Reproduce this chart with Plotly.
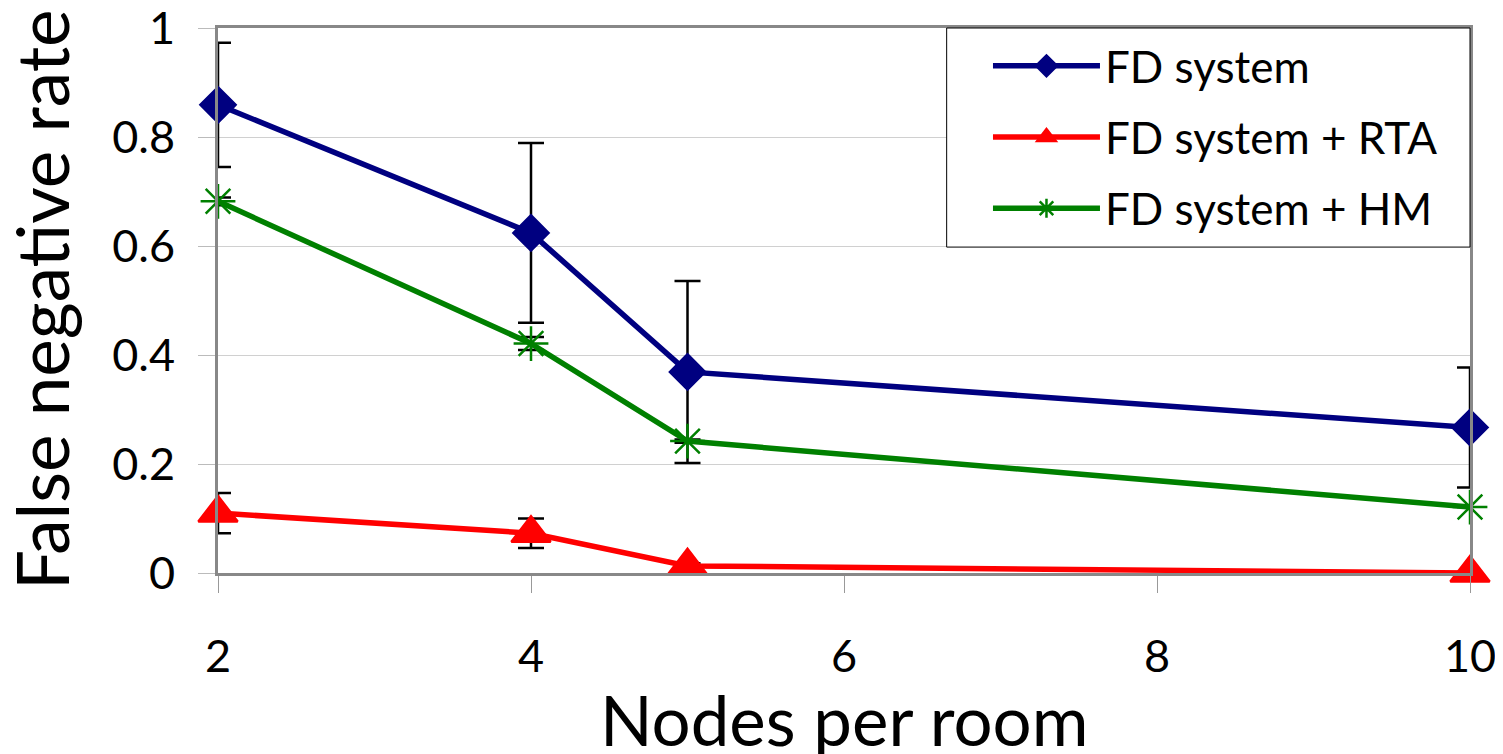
import plotly.graph_objects as go

nodes = [2, 4, 5, 10]
series_names = ["FD system", "FD system + RTA", "FD system + HM"]
fd = [0.859, 0.624, 0.369, 0.267]
fd_err = [0.114, 0.165, 0.167, 0.11]
rta = [0.11, 0.073, 0.013, 0.0]
rta_err = [0.037, 0.027, 0.005, 0.0]
hm = [0.682, 0.421, 0.242, 0.121]
hm_err = [0.007, 0.012, 0.003, 0.0]
y_ticks = [0, 0.2, 0.4, 0.6, 0.8, 1]
y_ticktext = ["0", "0.2", "0.4", "0.6", "0.8", "1"]
x_ticks = [2, 4, 6, 8, 10]
x_title = "Nodes per room"
y_title = "False negative rate"

FONT = "Lato"

fig = go.Figure()

def add(name, y, err, color, symbol, size, group):
    fig.add_trace(go.Scatter(
        x=nodes, y=y, name=name, mode="lines+markers",
        line=dict(color=color, width=5.5),
        marker=dict(symbol=symbol, size=size, color=color,
                    line=dict(color=color, width=2.5)),
        error_y=dict(type="data", array=err, symmetric=True,
                     color="black", thickness=2.5, width=13),
        cliponaxis=False, legendgroup=group,
    ))

add(series_names[0], fd, fd_err, "#000080", "diamond", 27, "a")
add(series_names[1], rta, rta_err, "#FF0000", "triangle-up", 34, "b")
add(series_names[2], hm, hm_err, "#008000", "asterisk-open", 29, "c")

# legend frame
fig.add_shape(type="rect", xref="paper", yref="paper",
              x0=0.582, x1=1.0, y0=0.598, y1=1.0,
              line=dict(color="black", width=1), fillcolor="white", layer="above")

# axis titles
fig.add_annotation(text=x_title, xref="paper", yref="paper", x=0.5, y=-0.268,
                   xanchor="center", yanchor="middle", showarrow=False,
                   font=dict(size=69, family=FONT, color="black"))
fig.add_annotation(text=y_title, xref="paper", yref="paper", x=-0.1406, y=0.501,
                   xanchor="center", yanchor="middle", textangle=-90, showarrow=False,
                   font=dict(size=71, family=FONT, color="black"))

fig.update_layout(
    width=1503, height=754,
    margin=dict(l=210, r=41, t=20, b=189),
    plot_bgcolor="white", paper_bgcolor="white",
    font=dict(family=FONT, color="black"),
    showlegend=True,
    legend=dict(
        x=0.615, xanchor="left", y=0.995, yanchor="top",
        bgcolor="rgba(0,0,0,0)", borderwidth=0,
        font=dict(size=44, family=FONT),
        traceorder="grouped", tracegroupgap=11,
        itemwidth=107,
    ),
)

fig.update_xaxes(
    range=[2, 10], tickvals=x_ticks,
    showgrid=False, zeroline=False, automargin=False,
    showline=True, linecolor="#888888", linewidth=3, mirror=True,
    ticks="outside", ticklen=17, tickcolor="#999999", tickwidth=1,
    ticklabelstandoff=25, ticklabeloverflow="allow",
    tickfont=dict(size=45, family=FONT),
)
fig.update_yaxes(
    range=[0, 1], tickvals=y_ticks, ticktext=y_ticktext,
    showgrid=True, gridcolor="#d0d0d0", gridwidth=1, zeroline=False, automargin=False,
    showline=True, linecolor="#888888", linewidth=3, mirror=True,
    ticks="outside", ticklen=17, tickcolor="#bbbbbb", tickwidth=1,
    ticklabelstandoff=14, ticklabeloverflow="allow",
    tickfont=dict(size=45, family=FONT),
)

fig.write_html("out.html")
